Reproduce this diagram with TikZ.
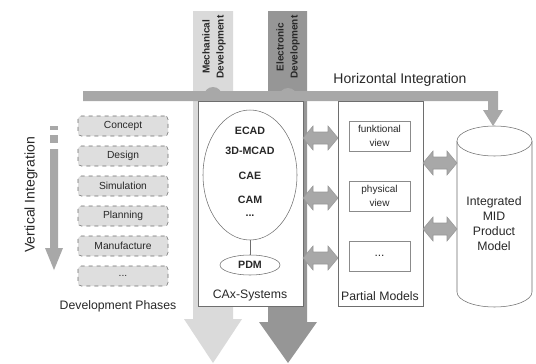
\documentclass[tikz,border=0pt]{standalone}
\usepackage{fontspec}
\setmainfont{Liberation Sans}
\usetikzlibrary{shapes.geometric}
\definecolor{mechgray}{RGB}{218,218,218}
\definecolor{elecgray}{RGB}{150,150,150}
\definecolor{bargray}{RGB}{168,168,168}
\definecolor{phasegray}{RGB}{222,222,222}
\definecolor{linegray}{RGB}{110,110,110}
\definecolor{txtgray}{RGB}{40,40,40}
\begin{document}
\begin{tikzpicture}[x=0.75pt,y=-0.75pt,
  phase/.style={draw=linegray, dashed, fill=phasegray, rounded corners=2.5pt,
    minimum width=67.5pt, minimum height=15pt, inner sep=0pt,
    font=\fontsize{7.7}{9}\selectfont, text=txtgray},
  sysbox/.style={draw=linegray, fill=white, anchor=north west, inner sep=0pt},
  viewbox/.style={draw=linegray!80, fill=white, minimum width=45.75pt, minimum height=22.5pt,
    inner sep=0pt, align=center, font=\fontsize{7.5}{10}\selectfont, text=txtgray},
  cadtxt/.style={font=\bfseries\fontsize{8}{9}\selectfont, text=txtgray},
  lbl/.style={font=\fontsize{9.2}{11.25}\selectfont, text=txtgray},
  biglbl/.style={font=\fontsize{10.5}{12}\selectfont, text=txtgray},
  collbl/.style={rotate=90, align=center, font=\bfseries\fontsize{7.5}{10.5}\selectfont, text=txtgray},
  fatarrow/.style={fill=bargray, draw=linegray!70, line width=0.4pt}]
\useasboundingbox[fill=white] (0,0) rectangle (536,364);

% development columns
\path[fill=mechgray] (193,11) -- (233,11) -- (233,319) -- (242,319) -- (213,363)
  -- (184,319) -- (193,319) -- cycle;
\path[fill=elecgray] (268,11) -- (307,11) -- (307,322) -- (317,322) -- (288,363)
  -- (259,322) -- (268,322) -- cycle;

% horizontal integration bar
\path[fill=bargray] (83,91) -- (498,91) -- (498,110) -- (503,110) -- (493,126)
  -- (483,110) -- (488,110) -- (488,101) -- (83,101) -- cycle;
\fill[bargray] (213,96) circle[radius=6.75pt];
\fill[bargray] (288,97) circle[radius=6.75pt];

% vertical integration arrow
\fill[bargray] (50,126) rectangle (58,130);
\fill[bargray] (50,135) rectangle (58,143);
\path[fill=bargray] (50,149) -- (58,149) -- (58,248) -- (63,248) -- (54,270)
  -- (45,248) -- (50,248) -- cycle;

% labels
\node[collbl] (mechlbl) at (214,47) {Mechanical\\Development};
\node[collbl] (eleclbl) at (288,47) {Electronic\\Development};
\node[biglbl] (hlbl) at (400,80) {Horizontal Integration};
\node[biglbl, rotate=90] (vlbl) at (31,195) {Vertical Integration};

% development phases
\node[phase] (p1) at (123,126) {Concept};
\node[phase] (p2) at (123,156) {Design};
\node[phase] (p3) at (123,186) {Simulation};
\node[phase] (p4) at (123,216) {Planning};
\node[phase] (p5) at (123,246) {Manufacture};
\node[phase] (p6) at (123,276) {...};
\node[lbl] (devph) at (118,306) {Development Phases};

% CAx systems
\node[sysbox, minimum width=78.75pt, minimum height=153.75pt] (cax) at (198,101) {};
\node[draw=linegray, ellipse, minimum width=70.5pt, minimum height=97.5pt, inner sep=0pt] (cad) at (250,175) {};
\node[cadtxt] (t1) at (250,131) {ECAD};
\node[cadtxt] (t2) at (250,151) {3D-MCAD};
\node[cadtxt] (t3) at (250,176) {CAE};
\node[cadtxt] (t4) at (250,200) {CAM};
\node[cadtxt] (t5) at (250,216) {...};
\node[draw=linegray, ellipse, minimum width=45pt, minimum height=15pt, inner sep=0pt, cadtxt] (pdm) at (250,265) {PDM};
\draw[linegray, line width=0.7pt] (cad.south) -- (pdm.north);
\node[lbl] (caxlbl) at (250,295) {CAx-Systems};

% partial models
\node[sysbox, minimum width=63.75pt, minimum height=153.75pt] (pm) at (338,101) {};
\node[viewbox] (v1) at (379.5,136) {funktional\\view};
\node[viewbox] (v2) at (379.5,196) {physical\\view};
\node[viewbox, font=\fontsize{9}{10}\selectfont] (v3) at (379.5,256) {...};
\node[lbl] (pmlbl) at (380,296) {Partial Models};

% cylinder
\draw[linegray, fill=white] (457,141) -- (457,292) arc[start angle=180, end angle=360, x radius=28.125pt, y radius=11.25pt] -- (532,141);
\draw[linegray, fill=white] (494.5,141) ellipse[x radius=28.125pt, y radius=11.25pt];
\node[lbl, align=center] (mid) at (494,224) {Integrated\\MID\\Product\\Model};

% fat double arrows
\foreach \yy in {138,198,258}{
  \path[fatarrow] (303,\yy) -- (313,\yy-12) -- (313,\yy-6) -- (328,\yy-6) -- (328,\yy-12)
    -- (338,\yy) -- (328,\yy+12) -- (328,\yy+6) -- (313,\yy+6) -- (313,\yy+12) -- cycle;
}
\foreach \yy in {163,229}{
  \path[fatarrow] (423,\yy) -- (433,\yy-12) -- (433,\yy-6) -- (447,\yy-6) -- (447,\yy-12)
    -- (457,\yy) -- (447,\yy+12) -- (447,\yy+6) -- (433,\yy+6) -- (433,\yy+12) -- cycle;
}
\end{tikzpicture}
\end{document}
